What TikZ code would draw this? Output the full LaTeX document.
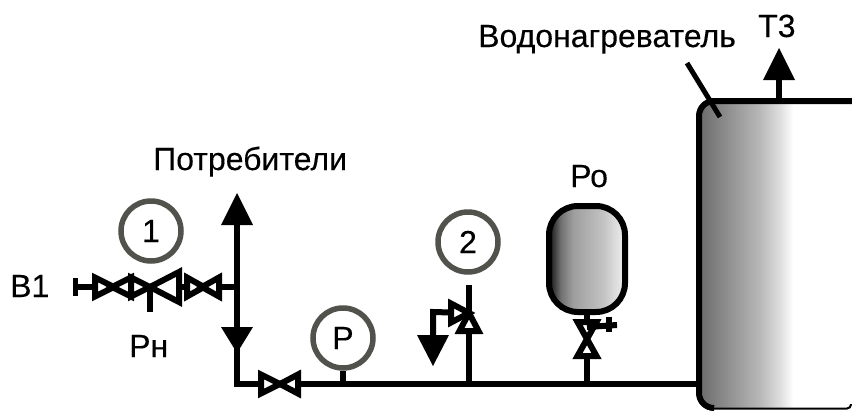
\documentclass[tikz,border=0pt]{standalone}
\usepackage{fontspec}
\newfontfamily\lblfont[FakeBold=0.25]{Liberation Sans}
\definecolor{gaugegray}{RGB}{82,82,76}
\pgfdeclarehorizontalshading{tankshade}{100bp}{color(0bp)=(black!58); color(25bp)=(black!58); color(45bp)=(black!28); color(52bp)=(black!12); color(56bp)=(white); color(100bp)=(white)}
\pgfdeclarehorizontalshading{vesselshade}{100bp}{color(0bp)=(black!88); color(26bp)=(black!88); color(33bp)=(black!55); color(41bp)=(black!38); color(60bp)=(black!24); color(75bp)=(black!6); color(100bp)=(black!6)}
\tikzset{
  pipe/.style={line width=6pt},
  vtri/.style={draw=black, fill=white, line width=6pt, line join=miter},
  gauge/.style={circle, draw=gaugegray, fill=white, line width=5.5pt, minimum size=60pt, inner sep=0pt, font=\lblfont\fontsize{32}{32}\selectfont},
  lbl/.style={anchor=base west, inner sep=0pt, font=\lblfont\fontsize{32}{32}\selectfont}
}
\begin{document}
\begin{tikzpicture}[x=1pt,y=-1pt]
\useasboundingbox (0,0) rectangle (852,410);
% points on the pipes
\coordinate (inlet) at (77,287);
\coordinate (tee) at (237,287);
\coordinate (corner) at (237,384);
\coordinate (tank) at (700,384);
\coordinate (feed) at (469,384);
\coordinate (relief) at (469,313);
\coordinate (drain) at (433,312);
\coordinate (vesseltap) at (587,384);
\coordinate (outlet) at (779,101);
% tank and vessel
\shade[shading=tankshade, rounded corners=15pt] (699,101) rectangle (851,408);
\draw[pipe, rounded corners=15pt] (860,101) -- (699,101) -- (699,408) -- (712,408);
\draw[line width=2pt, rounded corners=4pt] (708,408.5) -- (851,408.5) -- (851,404);
\shade[shading=vesselshade, rounded corners=29pt] (549,206) rectangle (625,312);
\draw[pipe, rounded corners=29pt] (549,206) rectangle (625,312);
% pipes
\draw[pipe] (inlet) -- (tee);
\draw[pipe] (237,200) -- (corner) -- (tank);
\draw[pipe] (feed) -- (relief) -- (469,285);
\draw[pipe] (relief) -- (drain) -- (433,340);
\draw[pipe] (vesseltap) -- (587,312);
\draw[pipe] (outlet) -- (779,75);
\draw[pipe] (150,287) -- (150,312);
\draw[line width=5pt] (75,278) -- (75,296);
% valves
\draw[vtri] (95,277.5) -- (114,287) -- (95,296.5) -- cycle;
\draw[vtri] (131,277.5) -- (112,287) -- (131,296.5) -- cycle;
\draw[vtri] (131,277.5) -- (150,287) -- (131,296.5) -- cycle;
\draw[vtri] (179,272) -- (150,287) -- (179,302) -- cycle;
\draw[vtri] (187,277.5) -- (204,287) -- (187,296.5) -- cycle;
\draw[vtri] (219,277.5) -- (202,287) -- (219,296.5) -- cycle;
\draw[vtri] (261,374.5) -- (280,384) -- (261,393.5) -- cycle;
\draw[vtri] (298,374.5) -- (280,384) -- (298,393.5) -- cycle;
\draw[vtri] (451,303.5) -- (469,313) -- (451,322.5) -- cycle;
\draw[vtri] (469,313) -- (478.5,331) -- (459.5,331) -- cycle;
\draw[vtri] (577.5,322) -- (596.5,322) -- (587,339) -- cycle;
\draw[vtri] (587,339) -- (596.5,356) -- (577.5,356) -- cycle;
\draw[pipe] (587,327) -- (617,325);
\draw[pipe] (609,317) -- (609,332);
% arrow heads
\fill (237,193) -- (253,225) -- (221,225) -- cycle;
\fill (221,327) -- (253,327) -- (237,353) -- cycle;
\fill (417,335) -- (449,335) -- (433,366) -- cycle;
\fill (779,48) -- (795,80) -- (763,80) -- cycle;
% gauges
\node[gauge] (gaugeone) at (151,231) {1};
\node[gauge] (gaugetwo) at (468,242) {2};
\node[gauge] (gaugep) at (343,338) {Р};
\draw[pipe] (gaugep) -- (343,384);
% leader and labels
\coordinate (leaderend) at (720,117);
\coordinate (leaderstart) at (687,63);
\draw[line width=5pt] (leaderstart) -- (leaderend);
\node[lbl] (heater) at (478,47) {Водонагреватель};
\node[lbl] (hotwater) at (758,37) {Т3};
\node[lbl] (users) at (153,170) {Потребители};
\node[lbl] (vessellabel) at (570,187) {Ро};
\node[lbl] (coldwater) at (10,297) {В1};
\node[lbl] (reducer) at (129,357) {Рн};
\end{tikzpicture}
\end{document}
